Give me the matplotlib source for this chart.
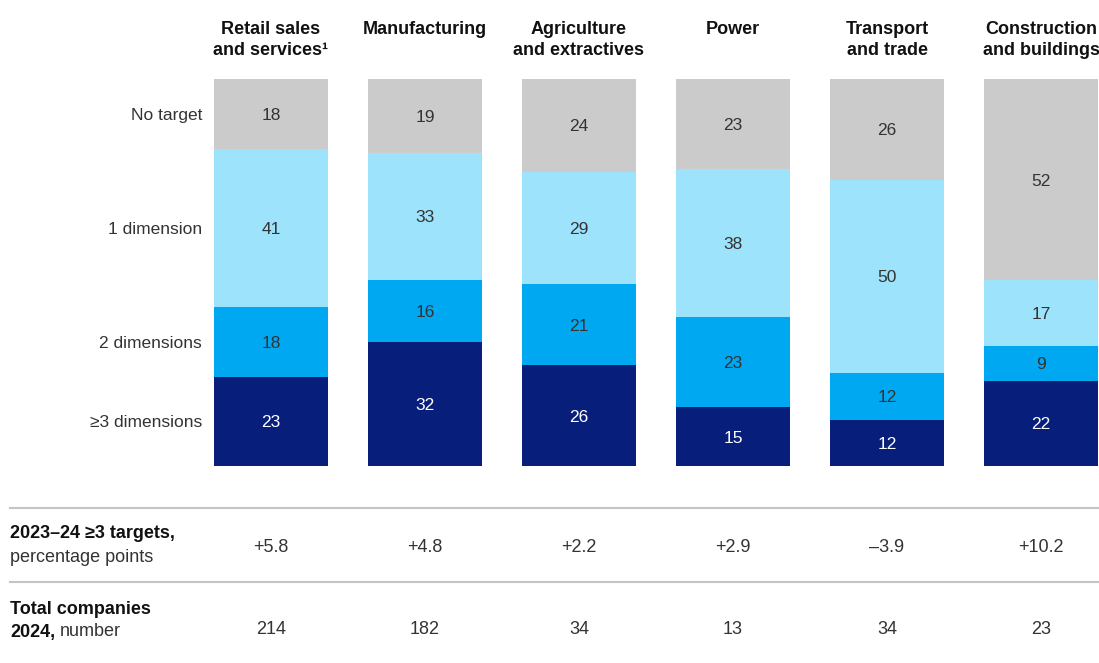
import matplotlib
matplotlib.use("Agg")
import matplotlib.pyplot as plt
import numpy as np
from matplotlib.transforms import blended_transform_factory
from matplotlib.lines import Line2D

plt.rcParams["font.family"] = ["Liberation Sans", "DejaVu Sans"]

sectors = ["Retail sales\nand services\u00b9", "Manufacturing", "Agriculture\nand extractives",
           "Power", "Transport\nand trade", "Construction\nand buildings"]
levels = ["≥3 dimensions", "2 dimensions", "1 dimension", "No target"]
three_plus = [23, 32, 26, 15, 12, 22]
two_dim = [18, 16, 21, 23, 12, 9]
one_dim = [41, 33, 29, 38, 50, 17]
no_target = [18, 19, 24, 23, 26, 52]
change_pp = ["+5.8", "+4.8", "+2.2", "+2.9", "–3.9", "+10.2"]
total_companies = ["214", "182", "34", "13", "34", "23"]

colors = ["#071f7a", "#00a8f2", "#9de3fb", "#cbcbcb"]
text_colors = ["white", "#333333", "#333333", "#333333"]

W, H = 1099, 663
fig = plt.figure(figsize=(W / 100, H / 100), dpi=100)


def fx(px):
    return px / W


def fy(py):
    return 1 - py / H


ax = fig.add_axes([fx(214), fy(466), fx(1098) - fx(214), fy(79) - fy(466)])
ax.set_xlim(-0.37, 5.37)
ax.set_ylim(0, 100)
ax.axis("off")

series = np.array([three_plus, two_dim, one_dim, no_target], dtype=float)
totals = series.sum(axis=0)
shares = series / totals * 100
x = np.arange(len(sectors))
bottom = np.zeros(len(sectors))
for i, row in enumerate(shares):
    ax.bar(x, row, bottom=bottom, width=0.74, color=colors[i], linewidth=0)
    for j in range(len(x)):
        ax.text(x[j], bottom[j] + row[j] / 2, f"{int(series[i, j])}", ha="center",
                va="center_baseline", fontsize=12.5, color=text_colors[i])
    bottom += row

# row labels, aligned to first bar's segments
cum = np.concatenate([[0], np.cumsum(shares[:, 0])])
ylabel_trans = blended_transform_factory(fig.transFigure, ax.transData)
for i, lab in enumerate(levels):
    ax.text(fx(202), (cum[i] + cum[i + 1]) / 2, lab, transform=ylabel_trans, ha="right",
            va="center_baseline", fontsize=12.5, color="#333333")

# sector headers
xtrans = blended_transform_factory(ax.transData, fig.transFigure)
for j, s in enumerate(sectors):
    ax.text(x[j], fy(21), s, transform=xtrans, ha="center", va="top", fontsize=13,
            fontweight="bold", color="#111111", linespacing=1.3)

# table lines
for py in (508, 582):
    fig.add_artist(Line2D([fx(10), 1], [fy(py), fy(py)], color="#c4c4c4", lw=1.5,
                          transform=fig.transFigure))

# table rows
fig.text(fx(10), fy(533), "2023–24 ≥3 targets,", ha="left", va="center", fontsize=13,
         fontweight="bold", color="#111111")
fig.text(fx(10), fy(557), "percentage points", ha="left", va="center", fontsize=13,
         color="#333333")
fig.text(fx(10), fy(609), "Total companies", ha="left", va="center", fontsize=13,
         fontweight="bold", color="#111111")
t = fig.text(fx(10), fy(632), "2024,", ha="left", va="center", fontsize=13,
             fontweight="bold", color="#111111")
r = fig.canvas.get_renderer()
bb = t.get_window_extent(renderer=r)
fig.text(bb.x1 / W + fx(5), fy(632), "number", ha="left", va="center", fontsize=13,
         color="#333333")

for j in range(len(x)):
    ax.text(x[j], fy(548), change_pp[j], transform=xtrans, ha="center", va="center",
            fontsize=13, color="#333333")
    ax.text(x[j], fy(629), total_companies[j], transform=xtrans, ha="center", va="center",
            fontsize=13, color="#333333")

fig.savefig("out.png", dpi=100, facecolor="white")
